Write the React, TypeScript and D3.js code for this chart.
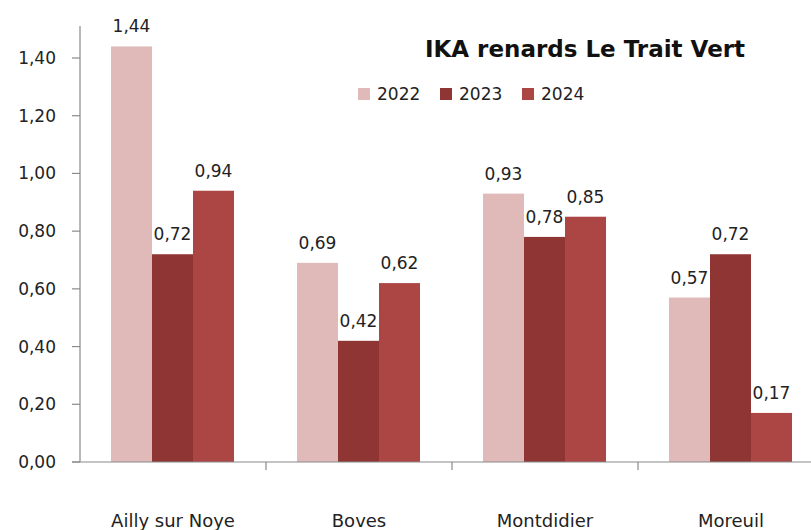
import React from 'react';
import * as d3 from 'd3';

const sites = ['Ailly sur Noye', 'Boves', 'Montdidier', 'Moreuil'];
const years = ['2022', '2023', '2024'];
const v2022 = [1.44, 0.69, 0.93, 0.57];
const v2023 = [0.72, 0.42, 0.78, 0.72];
const v2024 = [0.94, 0.62, 0.85, 0.17];
const yTicks = [0, 0.2, 0.4, 0.6, 0.8, 1.0, 1.2, 1.4];
const colors = ['#e0b9b9', '#8f3635', '#ac4645'];

const W = 811;
const H = 530;
const FONT = "'DejaVu Sans', sans-serif";

const fmt = (v: number) => v.toFixed(2).replace('.', ',');

const App: React.FC = () => {
  const series = [v2022, v2023, v2024];

  // category band: each site gets ~186px, starting at the y axis
  const x = d3.scaleBand<string>()
    .domain(sites)
    .range([80, 80 + 186 * sites.length]);
  const inner = d3.scaleBand<string>()
    .domain(years)
    .range([31, 186 - 32]);
  const y = d3.scaleLinear().domain([0, 1.4]).range([462, 58]);

  return (
    <svg width={W} height={H} style={{ position: 'absolute', left: 0, top: 0, background: '#fff' }}>
      {/* bars */}
      {sites.map((s, i) => (
        <g key={s} transform={`translate(${x(s)},0)`}>
          {years.map((yr, j) => {
            const v = series[j][i];
            const bx = inner(yr)!;
            const bw = inner.bandwidth();
            return (
              <g key={yr}>
                <rect x={bx} y={y(v)} width={bw} height={y(0) - y(v)} fill={colors[j]} />
                <text
                  x={bx + bw / 2}
                  y={y(v) - 14}
                  textAnchor="middle"
                  fontFamily={FONT}
                  fontSize={17}
                  fill="#222"
                >
                  {fmt(v)}
                </text>
              </g>
            );
          })}
        </g>
      ))}

      {/* y axis */}
      <line x1={80} x2={80} y1={26} y2={462} stroke="#8a8a8a" strokeWidth={1.2} />
      {yTicks.map(t => (
        <g key={t}>
          <line x1={72} x2={80} y1={y(t)} y2={y(t)} stroke="#8a8a8a" strokeWidth={1.2} />
          <text x={56} y={y(t) + 6} textAnchor="end" fontFamily={FONT} fontSize={17} fill="#222">
            {fmt(t)}
          </text>
        </g>
      ))}

      {/* x axis */}
      <line x1={72} x2={W} y1={462} y2={462} stroke="#8a8a8a" strokeWidth={1.2} />
      {sites.slice(1).map(s => (
        <line key={s} x1={x(s)} x2={x(s)} y1={462} y2={470} stroke="#8a8a8a" strokeWidth={1.2} />
      ))}
      {sites.map(s => (
        <text
          key={s}
          x={x(s)! + x.bandwidth() / 2}
          y={527}
          textAnchor="middle"
          fontFamily={FONT}
          fontSize={18}
          fill="#222"
        >
          {s}
        </text>
      ))}

      {/* title */}
      <text x={585} y={57} textAnchor="middle" fontFamily={FONT} fontSize={23} fontWeight="bold" fill="#111">
        IKA renards Le Trait Vert
      </text>

      {/* legend */}
      {years.map((yr, j) => {
        const lx = 358 + j * 82;
        return (
          <g key={yr}>
            <rect x={lx} y={88} width={12} height={12} fill={colors[j]} />
            <text x={lx + 19} y={100} fontFamily={FONT} fontSize={17} fill="#222">
              {yr}
            </text>
          </g>
        );
      })}
    </svg>
  );
};

export default App;
